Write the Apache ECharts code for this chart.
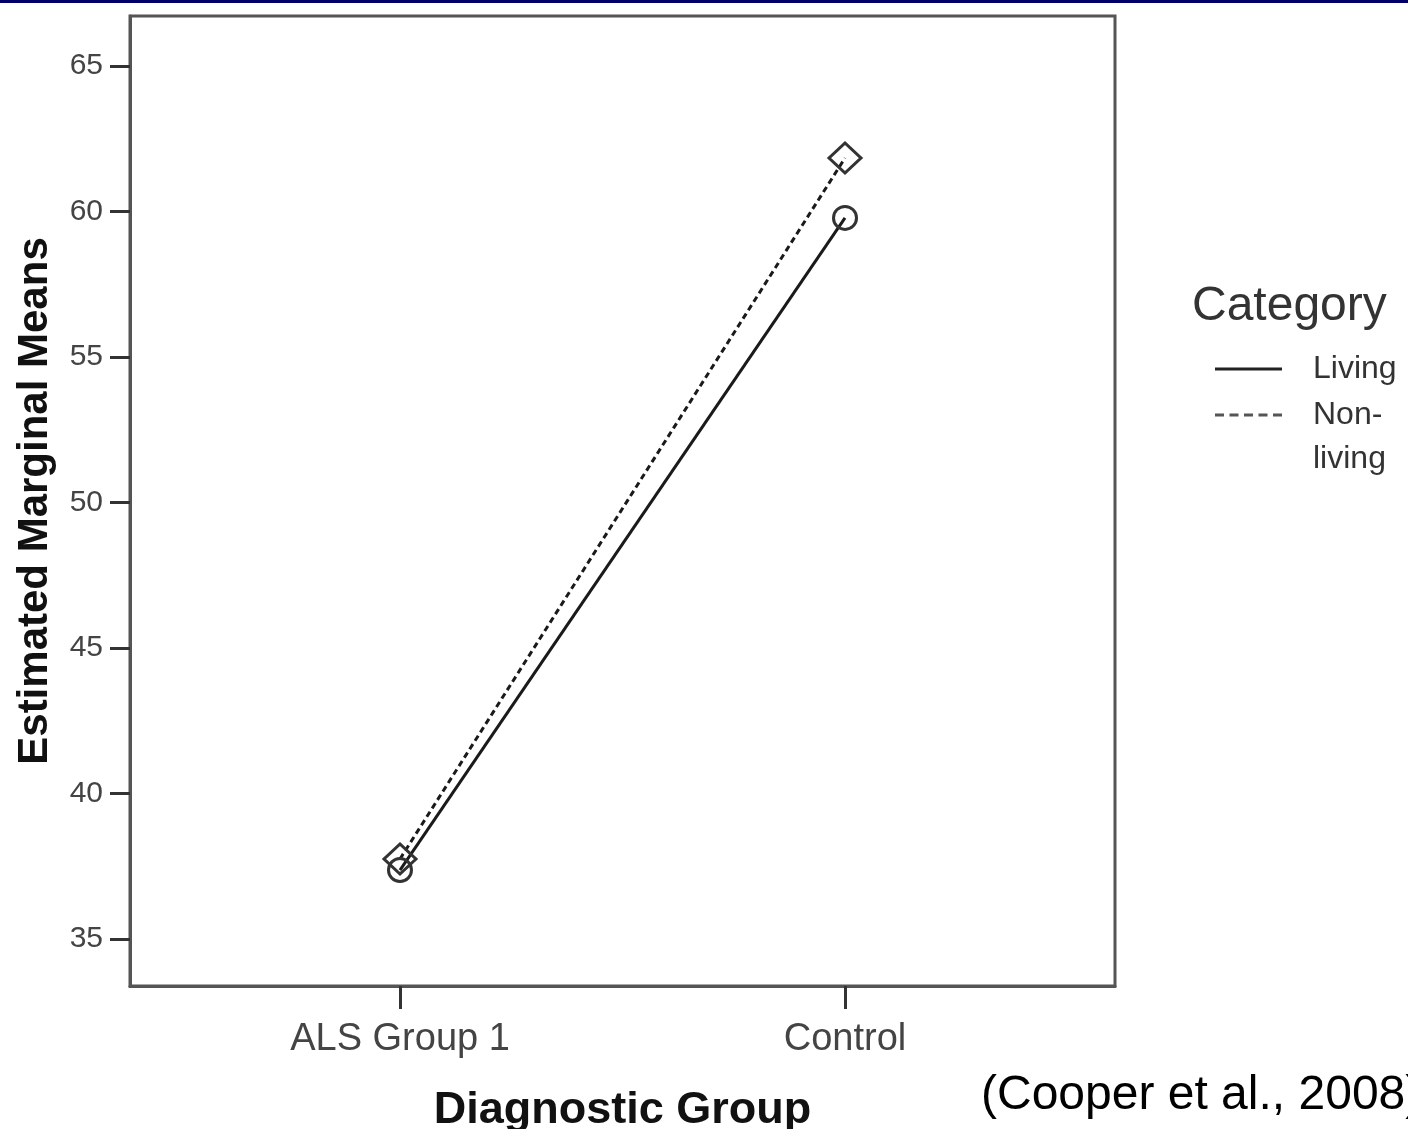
<!DOCTYPE html>
<html>
<head>
<meta charset="utf-8">
<script src="https://cdn.jsdelivr.net/npm/echarts@6/dist/echarts.min.js"></script>
<style>
  html, body { margin: 0; padding: 0; background: #ffffff; }
  #chart { width: 1408px; height: 1129px; }
</style>
</head>
<body>
<div id="chart"></div>
<script>
// ---- data ----
const categories = ['ALS Group 1', 'Control'];
const livingValues = [37.37, 59.78];
const nonLivingValues = [37.75, 61.84];
const yTickValues = [35, 40, 45, 50, 55, 60, 65];
const seriesNames = ['Living', 'Non-living'];
const legendTitle = 'Category';
const xAxisTitle = 'Diagnostic Group';
const yAxisTitle = 'Estimated Marginal Means';
const citation = '(Cooper et al., 2008)';

const FONT = "'Liberation Sans', Arial, Helvetica, sans-serif";
const xIdx = categories.map((c, i) => i);

const chart = echarts.init(document.getElementById('chart'), null, { renderer: 'canvas' });

const option = {
  backgroundColor: '#ffffff',
  animation: false,
  grid: {
    left: 130, right: 293, top: 16, bottom: 143,
    outerBoundsMode: 'none',
    containLabel: false,
    show: true,
    borderColor: '#555555',
    borderWidth: 3,
    backgroundColor: 'transparent'
  },
  xAxis: {
    type: 'value',
    min: -0.6067,
    max: 1.6067,
    name: xAxisTitle,
    nameLocation: 'middle',
    nameGap: 102,
    nameTextStyle: { fontFamily: FONT, fontSize: 45, fontWeight: 'bold', color: '#111' },
    axisLine: { show: true, onZero: false, lineStyle: { color: '#555555', width: 3 } },
    axisTick: { show: true, length: 23, lineStyle: { color: '#333', width: 3 }, customValues: xIdx },
    axisLabel: {
      show: true,
      customValues: xIdx,
      margin: 35,
      fontFamily: FONT, fontSize: 38, color: '#444',
      formatter: v => categories[Math.round(v)] || ''
    },
    splitLine: { show: false }
  },
  yAxis: {
    type: 'value',
    min: 33.385,
    max: 66.718,
    name: yAxisTitle,
    nameLocation: 'middle',
    nameGap: 74,
    nameTextStyle: { fontFamily: FONT, fontSize: 42, fontWeight: 'bold', color: '#111' },
    axisLine: { show: true, onZero: false, lineStyle: { color: '#555555', width: 3 } },
    axisTick: { show: true, length: 20, lineStyle: { color: '#333', width: 3 }, customValues: yTickValues },
    axisLabel: {
      show: true,
      customValues: yTickValues,
      margin: 27,
      fontFamily: FONT, fontSize: 30, color: '#444'
    },
    splitLine: { show: false }
  },
  legend: [
    {
      data: [{ name: seriesNames[0], icon: 'rect' }],
      orient: 'vertical',
      left: 1215, top: 347,
      padding: 0,
      itemWidth: 67, itemHeight: 3,
      selectedMode: false,
      itemStyle: { color: '#222', borderWidth: 0 },
      textStyle: { fontFamily: FONT, fontSize: 32, color: '#333', lineHeight: 44, padding: [0, 0, 0, 26] }
    },
    {
      data: [{ name: seriesNames[1], icon: 'path://M0,0h9v3h-9z M14.5,0h9v3h-9z M29,0h9v3h-9z M43.5,0h9v3h-9z M58,0h9v3h-9z' }],
      orient: 'vertical',
      left: 1215, top: 349,
      padding: 0,
      itemWidth: 67, itemHeight: 3,
      selectedMode: false,
      itemStyle: { color: '#555', borderWidth: 0 },
      formatter: name => ' \n' + name.replace('-', '-\n'),
      textStyle: { fontFamily: FONT, fontSize: 32, color: '#333', lineHeight: 44, padding: [0, 0, 0, 26] }
    }
  ],
  graphic: [
    {
      type: 'rect', left: 0, top: 0, z: 10,
      shape: { width: 1408, height: 3 },
      style: { fill: '#000066' }
    },
    {
      type: 'text', left: 1192, top: 283,
      style: { text: legendTitle, font: `48px ${FONT}`, fill: '#333' }
    },
    {
      type: 'text', left: 981, top: 1072,
      style: { text: citation, font: `48px ${FONT}`, fill: '#000' }
    }
  ],
  series: [
    {
      name: seriesNames[0],
      type: 'line',
      data: xIdx.map(i => [i, livingValues[i]]),
      symbol: 'circle',
      symbolSize: 23,
      lineStyle: { color: '#1a1a1a', width: 3, type: 'solid' },
      itemStyle: { color: 'rgba(0,0,0,0)', borderColor: '#333', borderWidth: 3 },
      emphasis: { disabled: true },
      z: 3
    },
    {
      name: seriesNames[1],
      type: 'line',
      data: xIdx.map(i => [i, nonLivingValues[i]]),
      symbol: 'diamond',
      symbolSize: [32, 30],
      lineStyle: { color: '#1a1a1a', width: 3, type: [6, 4] },
      itemStyle: { color: 'rgba(0,0,0,0)', borderColor: '#333', borderWidth: 3 },
      emphasis: { disabled: true },
      z: 3
    }
  ]
};

chart.setOption(option);
</script>
</body>
</html>
